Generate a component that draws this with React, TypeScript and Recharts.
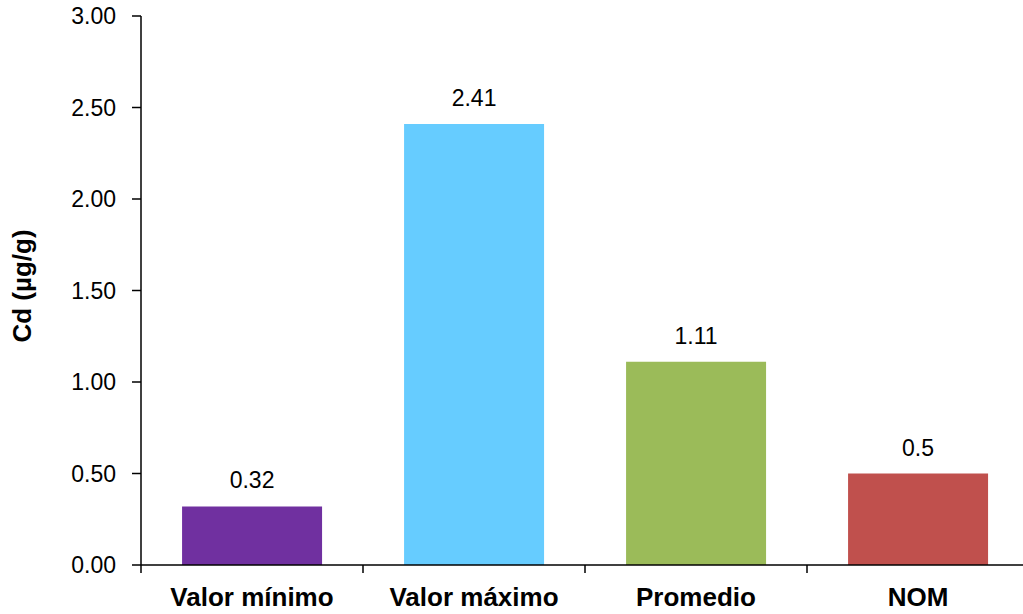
import { BarChart, Bar, XAxis, YAxis, Cell, LabelList } from 'recharts';

const categories = ['Valor mínimo', 'Valor máximo', 'Promedio', 'NOM'];
const cdValues = [0.32, 2.41, 1.11, 0.5];
const barColors = ['#7030A0', '#66CCFF', '#9BBB59', '#C0504D'];
const yTicks = [0, 0.5, 1, 1.5, 2, 2.5, 3];

const data = categories.map((name, i) => ({ name, cd: cdValues[i] }));

const FONT = '"Liberation Sans", Arial, sans-serif';
const CHART_W = 1030;
const Y_AXIS_W = 141;
const RIGHT = 1;
// half of one category band on the x axis
const HALF_BAND = (CHART_W - Y_AXIS_W - RIGHT) / categories.length / 2;

const YLabel = () => (
  <text
    x={22}
    y={286}
    transform="rotate(-90 22 286)"
    textAnchor="middle"
    dominantBaseline="central"
    fontFamily={FONT}
    fontWeight="bold"
    fontSize={26}
    fill="#000"
  >
    Cd (µg/g)
  </text>
);

// category label plus tick marks on the band edges instead of the band centre
const CategoryTick = (props: any) => {
  const { x, y, payload, index } = props;
  const top = y - 23;
  const isLast = index === categories.length - 1;
  return (
    <g>
      <line x1={x - HALF_BAND} x2={x - HALF_BAND} y1={top} y2={top + 8} stroke="#000" strokeWidth={1.5} />
      {isLast && <line x1={x + HALF_BAND} x2={x + HALF_BAND} y1={top} y2={top + 8} stroke="#000" strokeWidth={1.5} />}
      <text
        x={x}
        y={top + 41}
        textAnchor="middle"
        fontFamily={FONT}
        fontWeight="bold"
        fontSize={26}
        fill="#000"
      >
        {payload.value}
      </text>
    </g>
  );
};

export default function App() {
  return (
    <div style={{ position: 'absolute', left: 0, top: 0, width: 1023, height: 614, overflow: 'hidden', background: '#fff' }}>
      <BarChart
        width={CHART_W}
        height={614}
        data={data}
        margin={{ top: 16, right: RIGHT, bottom: 0, left: 0 }}
        barCategoryGap="18.5%"
      >
        <XAxis
          dataKey="name"
          height={49}
          interval={0}
          tickSize={8}
          tickMargin={15}
          axisLine={{ stroke: '#000', strokeWidth: 1.5 }}
          tickLine={false}
          tick={<CategoryTick />}
        />
        <YAxis
          width={Y_AXIS_W}
          domain={[0, 3]}
          ticks={yTicks}
          interval={0}
          tickSize={9}
          tickMargin={16}
          tickFormatter={(v: number) => v.toFixed(2)}
          axisLine={{ stroke: '#000', strokeWidth: 1.5 }}
          tickLine={{ stroke: '#000', strokeWidth: 1.5 }}
          tick={{ fill: '#000', fontFamily: FONT, fontSize: 23 }}
        />
        <Bar dataKey="cd" isAnimationActive={false}>
          {data.map((d, i) => (
            <Cell key={d.name} fill={barColors[i]} />
          ))}
          <LabelList
            dataKey="cd"
            position="top"
            offset={18}
            fill="#000"
            fontFamily={FONT}
            fontSize={23}
            formatter={(v: number) => String(v)}
          />
        </Bar>
        <YLabel />
      </BarChart>
    </div>
  );
}
